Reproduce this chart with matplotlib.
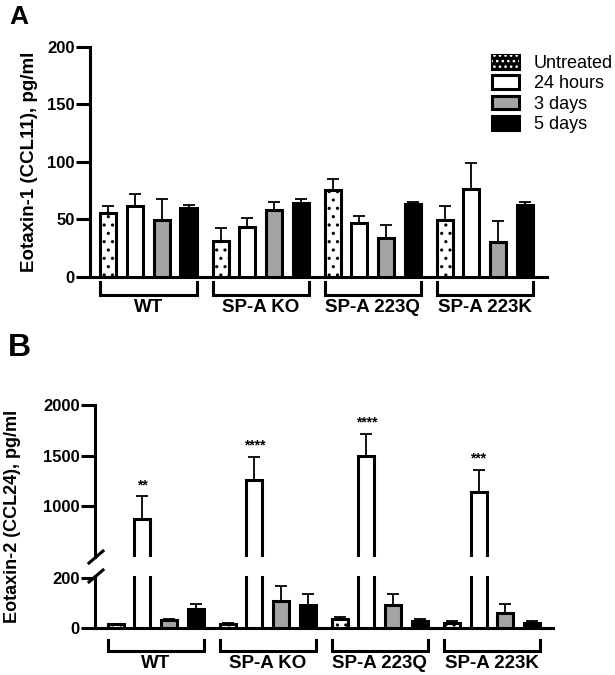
import matplotlib
matplotlib.use('Agg')
import matplotlib.pyplot as plt
import matplotlib.transforms as mtransforms
from matplotlib.patches import Patch
from matplotlib.legend_handler import HandlerTuple

plt.rcParams['font.family'] = ['Liberation Sans', 'DejaVu Sans']
plt.rcParams['font.weight'] = 'bold'
plt.rcParams['hatch.linewidth'] = 1.1

# data
groups = ['WT', 'SP-A KO', 'SP-A 223Q', 'SP-A 223K']
treatments = ['Untreated', '24 hours', '3 days', '5 days']

ccl11_mean = [[55.1, 61.7, 49.3, 60.0],
              [31.3, 43.5, 58.0, 64.1],
              [75.4, 46.4, 33.4, 63.0],
              [49.3, 76.3, 30.4, 62.1]]
ccl11_sem = [[6.6, 10.0, 18.3, 2.3],
             [11.3, 7.3, 7.0, 3.5],
             [9.6, 6.4, 11.6, 2.0],
             [12.2, 22.3, 17.8, 2.6]]

ccl24_mean = [[15, 876, 32, 75],
              [17, 1257, 110, 93],
              [35, 1500, 93, 30],
              [22, 1138, 62, 22]]
ccl24_sem = [[3, 223, 6, 22],
             [4, 230, 60, 45],
             [10, 217, 44, 6],
             [8, 224, 33, 5]]
ccl24_stars = ['**', '****', '****', '***']

faces = ['white', 'white', '#a4a4a4', 'black']
hatches = ['..', None, None, None]
group_gap = 4.2
bar_w = 0.6
W, H = 615, 675


def positions(g):
    return [g * group_gap + i for i in range(4)]


def draw_bars(ax, means, sems):
    for g in range(len(groups)):
        for i, x in enumerate(positions(g)):
            ax.errorbar(x, means[g][i], yerr=[[0], [sems[g][i]]], fmt='none',
                        ecolor='black', elinewidth=1.3, capsize=4, capthick=1.3, zorder=2)
            ax.bar(x, means[g][i], width=bar_w, color=faces[i], edgecolor='black',
                   linewidth=2.2, hatch=hatches[i], zorder=3)


def style_axis(ax, bottom=True):
    for s in ['top', 'right']:
        ax.spines[s].set_visible(False)
    ax.spines['left'].set_linewidth(2.2)
    ax.spines['bottom'].set_linewidth(2.2)
    if not bottom:
        ax.spines['bottom'].set_visible(False)
    ax.tick_params(axis='y', length=10, width=2.2, pad=1, labelsize=12)
    ax.set_xticks([])


def add_brackets(ax, h_px, top_px, bot_px, lab_px):
    trans = mtransforms.blended_transform_factory(ax.transData, ax.transAxes)
    for g, name in enumerate(groups):
        xs = positions(g)
        x0 = xs[0] - bar_w / 2
        x1 = xs[-1] + bar_w / 2
        y0 = -top_px / h_px
        y1 = -bot_px / h_px
        ax.plot([x0, x0, x1, x1], [y0, y1, y1, y0], transform=trans, clip_on=False,
                color='black', lw=2.2, solid_joinstyle='miter')
        ax.text((x0 + x1) / 2, -lab_px / h_px, name, transform=trans, ha='center',
                va='center', fontsize=13.5, fontweight='bold')


fig = plt.figure(figsize=(W / 100, H / 100), dpi=100)

# Panel A
axA = fig.add_axes((90 / W, 1 - 276.7 / H, 457 / W, 230 / H))
draw_bars(axA, ccl11_mean, ccl11_sem)
axA.set_ylim(0, 200)
axA.set_yticks([0, 50, 100, 150, 200])
axA.set_xlim(-0.69, 3 * group_gap + 3 + 0.83)
style_axis(axA)
add_brackets(axA, 230, 5, 18.5, 31)
fig.text(29.5 / W, 1 - 162 / H, 'Eotaxin-1 (CCL11), pg/ml', rotation=90,
         ha='center', va='center', fontsize=13.5, fontweight='bold')
fig.text(9 / W, 1 - 5 / H, 'A', fontsize=19, fontweight='bold', va='top')

untreated_handle = (Patch(facecolor='black', edgecolor='black', linewidth=2.2),
                    Patch(facecolor='none', edgecolor='white', hatch='...', linewidth=0))
handles = [untreated_handle,
           Patch(facecolor='white', edgecolor='black', linewidth=2.2),
           Patch(facecolor='#a4a4a4', edgecolor='black', linewidth=2.2),
           Patch(facecolor='black', edgecolor='black', linewidth=2.2)]
fig.legend(handles, treatments, loc='upper left', bbox_to_anchor=(492 / W, 1 - 55 / H),
           frameon=False, prop={'size': 13, 'weight': 'normal'}, handlelength=1.5,
           handleheight=0.8, handletextpad=0.8, labelspacing=0.17, borderpad=0,
           borderaxespad=0, handler_map={tuple: HandlerTuple(ndivide=1, pad=0)})

# Panel B (broken axis)
x_lim_b = (-0.77, 3 * group_gap + 3 + 0.79)
axBt = fig.add_axes((95 / W, 1 - 557 / H, 458 / W, 152 / H))
axBb = fig.add_axes((95 / W, 1 - 628 / H, 458 / W, 52 / H))
for ax in (axBt, axBb):
    draw_bars(ax, ccl24_mean, ccl24_sem)
    ax.set_xlim(*x_lim_b)
axBt.set_ylim(500, 2000)
axBt.set_yticks([1000, 1500, 2000])
axBb.set_ylim(0, 210)
axBb.set_yticks([0, 200])
style_axis(axBt, bottom=False)
style_axis(axBb)

for g, s in enumerate(ccl24_stars):
    x = positions(g)[1]
    top = ccl24_mean[g][1] + ccl24_sem[g][1]
    axBt.annotate(s, (x, top), xytext=(0, 3), textcoords='offset points',
                  ha='center', va='bottom', fontsize=10, fontweight='bold')

# break marks on the y axis
for ax, h_px, yy in ((axBt, 152, 0), (axBb, 52, 1)):
    ax.plot([-6 / 458, 8 / 458], [yy - 6 / h_px, yy + 6 / h_px],
            transform=ax.transAxes, clip_on=False, color='black', lw=2.2)

add_brackets(axBb, 52, 12, 23, 36)
fig.text(12.5 / W, 1 - 516 / H, 'Eotaxin-2 (CCL24), pg/ml', rotation=90,
         ha='center', va='center', fontsize=13, fontweight='bold')
fig.text(8 / W, 1 - 333 / H, 'B', fontsize=23, fontweight='bold', va='top')

fig.savefig('out.png', dpi=100)
